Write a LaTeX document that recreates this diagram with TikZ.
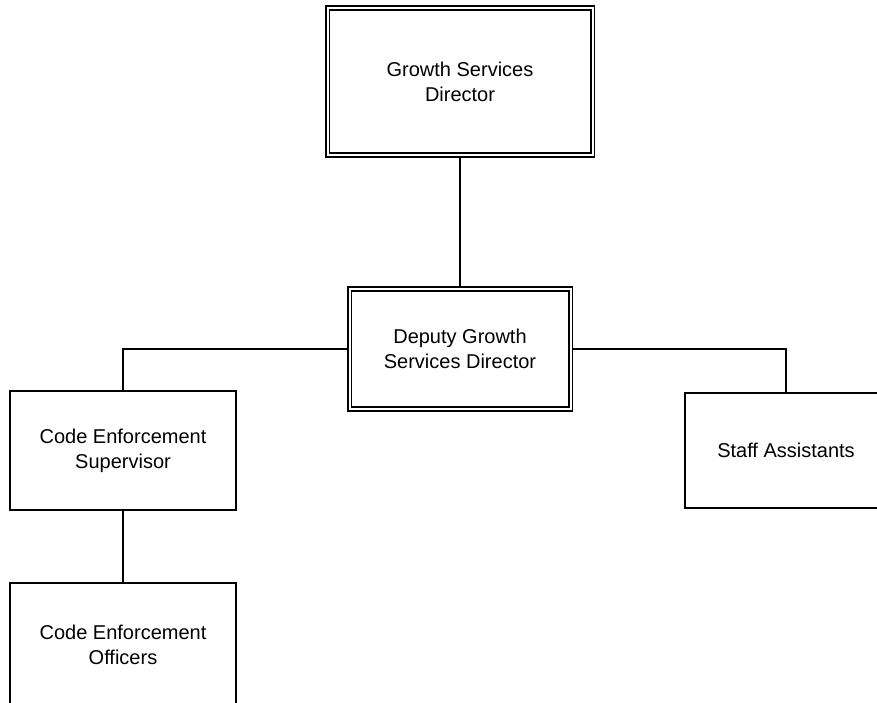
\documentclass[tikz,border=0pt]{standalone}
\usepackage{fontspec}
\setmainfont{Liberation Sans}
\begin{document}
\begin{tikzpicture}[x=1pt,y=-1pt,
    box/.style={draw,line width=1.4pt,align=center,inner sep=0pt,outer sep=0pt,
      font=\fontsize{20}{25}\selectfont},
    dbox/.style={box,double,double distance=2pt,line width=1.8pt,outer sep=2.8pt},
    link/.style={line width=1.4pt}]
        \clip (0,0) rectangle (877,702);
        %% directors
        \node[dbox,minimum width=265pt,minimum height=147pt] (dir) at (460,81.5) {Growth Services\\Director};
        \node[dbox,minimum width=221pt,minimum height=120pt] (dep) at (460,349) {Deputy Growth\\Services Director};
        %% code enforcement and staff
        \node[box,minimum width=226pt,minimum height=119pt] (sup) at (123,450.5) {Code Enforcement\\Supervisor};
        \node[box,minimum width=226pt,minimum height=124pt] (off) at (123,645) {Code Enforcement\\Officers};
        \node[box,minimum width=202pt,minimum height=115pt] (staff) at (786,450.5) {Staff Assistants};
        %% links
        \draw[link] (dir) -- (dep);
        \draw[link] (dep.west) -| (sup.north);
        \draw[link] (dep.east) -| (staff.north);
        \draw[link] (sup) -- (off);
    \end{tikzpicture}
\end{document}
